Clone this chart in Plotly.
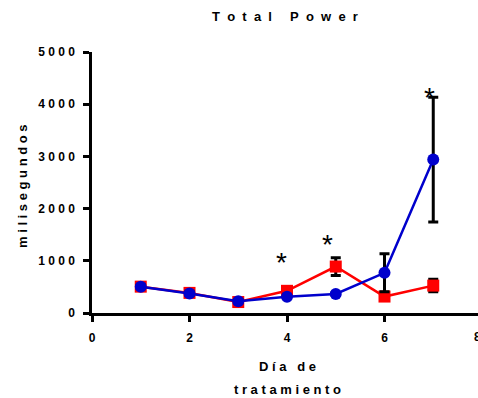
import plotly.graph_objects as go

NB = "\u00a0"

def spaced(s, gap=" "):
    return gap.join(list(s)).replace("  ", " " + NB)

dias = [1, 2, 3, 4, 5, 6, 7]
rojo = [505, 385, 210, 425, 890, 315, 525]
rojo_err = [30, 30, 30, 30, 170, 30, 120]
azul = [505, 375, 225, 313, 365, 770, 2940]
azul_err = [30, 30, 30, 30, 30, 365, 1195]

y_ticks = [0, 1000, 2000, 3000, 4000, 5000]
x_ticks = [0, 2, 4, 6]
ast_x = [3.88, 4.84, 6.93]
ast_y = [960, 1320, 4130]

XMAX = (478 - 92) / 48.75

fig = go.Figure()
fig.add_trace(go.Scatter(
    x=dias, y=rojo, mode="lines+markers",
    line=dict(color="#FF0000", width=2.5),
    marker=dict(symbol="square", size=12, color="#FF0000"),
    error_y=dict(type="data", array=rojo_err, color="black", thickness=3, width=5),
    cliponaxis=False, showlegend=False))
fig.add_trace(go.Scatter(
    x=dias, y=azul, mode="lines+markers",
    line=dict(color="#0000CC", width=2.5),
    marker=dict(symbol="circle", size=12, color="#0000CC"),
    error_y=dict(type="data", array=azul_err, color="black", thickness=3, width=5),
    cliponaxis=False, showlegend=False))

font_b = "Liberation Sans, Arial, sans-serif"
annots = []
for ax_, ay_ in zip(ast_x, ast_y):
    annots.append(dict(x=ax_, y=ay_, xref="x", yref="y", text="*", showarrow=False,
                       font=dict(family=font_b, size=28, color="black"),
                       xanchor="center", yanchor="middle"))
annots += [
    dict(x=285, y=17, text="<b>" + spaced("Total Power", NB + NB) + "</b>",
         showarrow=False, font=dict(family=font_b, size=13, color="black")),
    dict(x=22, y=186, text="<b>" + spaced("milisegundos", NB) + "</b>", textangle=-90,
         showarrow=False, font=dict(family=font_b, size=13, color="black")),
    dict(x=287, y=366, text="<b>" + spaced("Día de", NB) + "</b>",
         showarrow=False, font=dict(family=font_b, size=13, color="black")),
    dict(x=287, y=389, text="<b>" + spaced("tratamiento", NB) + "</b>",
         showarrow=False, font=dict(family=font_b, size=13, color="black")),
    dict(x=472, y=337, text="<b>8</b>",
         showarrow=False, xanchor="left", font=dict(family=font_b, size=12, color="black")),
]
W, H, L, T, R, B = 478, 398, 92, 52, 0, 85
pw, ph = W - L - R, H - T - B
for a in annots:
    if a.get("xref") == "x":
        continue
    px, py = a["x"], a["y"]
    a["xref"] = "paper"; a["yref"] = "paper"
    a["x"] = (px - L) / pw
    a["y"] = (H - B - py) / ph
    a.setdefault("yanchor", "middle")
    a.setdefault("xanchor", "center")

fig.update_layout(
    width=W, height=H, margin=dict(l=L, r=R, t=T, b=B),
    paper_bgcolor="white", plot_bgcolor="white",
    annotations=annots,
    xaxis=dict(range=[0, XMAX], tickvals=x_ticks, ticktext=["<b>%d</b>" % v for v in x_ticks],
               showgrid=False, zeroline=False, showline=True, linecolor="black", linewidth=2.5,
               ticks="outside", ticklen=6, tickwidth=2.5, tickcolor="black", ticklabelstandoff=6,
               tickfont=dict(family=font_b, size=12, color="black")),
    yaxis=dict(range=[0, 5000], tickvals=y_ticks,
               ticktext=["<b>" + " ".join(str(v)) + "</b>" for v in y_ticks],
               showgrid=False, zeroline=False, showline=True, linecolor="black", linewidth=2.5,
               ticks="outside", ticklen=6, tickwidth=2.5, tickcolor="black", ticklabelstandoff=6,
               tickfont=dict(family=font_b, size=12, color="black")),
)
fig.write_html("out.html")
